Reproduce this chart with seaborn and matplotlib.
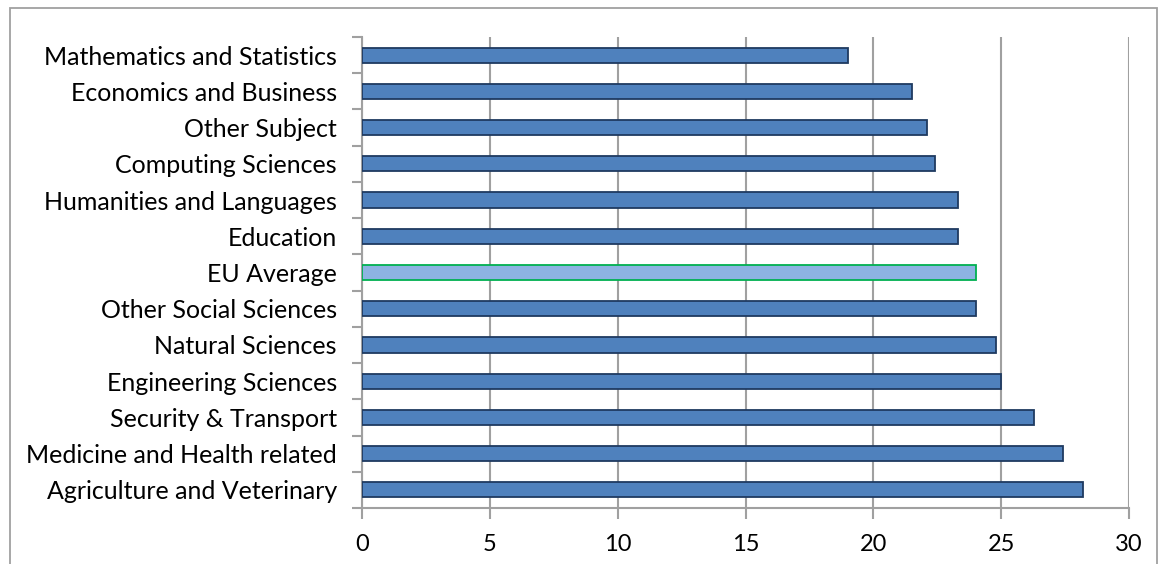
import numpy as np
import pandas as pd
import seaborn as sns
import matplotlib.pyplot as plt
from matplotlib.patches import Rectangle
from matplotlib.ticker import FixedLocator

subjects = ['Mathematics and Statistics', 'Economics and Business', 'Other Subject',
            'Computing Sciences', 'Humanities and Languages', 'Education', 'EU Average',
            'Other Social Sciences', 'Natural Sciences', 'Engineering Sciences',
            'Security & Transport', 'Medicine and Health related', 'Agriculture and Veterinary']
values = [19.0, 21.5, 22.1, 22.4, 23.3, 23.3, 24.0, 24.0, 24.8, 25.0, 26.3, 27.4, 28.2]
xticks = [0, 5, 10, 15, 20, 25, 30]

df = pd.DataFrame({'subject': subjects, 'value': values})

sns.set_theme(style='white')
plt.rcParams['font.family'] = ['Lato', 'DejaVu Sans']

fig = plt.figure(figsize=(11.59, 5.64), dpi=100)
ax = fig.add_axes([362 / 1159, 1 - 508 / 564, (1129 - 362) / 1159, (508 - 37) / 564])

colors = ['#8DB3E2' if s == 'EU Average' else '#4F81BD' for s in subjects]
sns.barplot(data=df, x='value', y='subject', hue='subject', palette=colors,
            saturation=1, legend=False, orient='h', width=0.42, ax=ax, zorder=3)

for p, s in zip(ax.patches, subjects):
    if s == 'EU Average':
        p.set_edgecolor('#00B050')
    else:
        p.set_edgecolor('#1F3A60')
    p.set_linewidth(1.3)

ax.set_xlim(0, 30)
ax.set_ylim(len(subjects) - 0.5, -0.5)
ax.set_xticks(xticks)
ax.set_xticklabels([str(t) for t in xticks])
ax.set_xlabel('')
ax.set_ylabel('')

ax.grid(axis='x', color='#A0A0A0', linewidth=1.5, zorder=0)
ax.grid(axis='y', visible=False)

for side in ['top', 'right']:
    ax.spines[side].set_visible(False)
for side in ['left', 'bottom']:
    ax.spines[side].set_color('#A0A0A0')
    ax.spines[side].set_linewidth(1.5)

ax.tick_params(axis='x', which='major', length=8, width=1.5, color='#A0A0A0',
               labelsize=17, pad=11, labelcolor='black', direction='out', bottom=True)
ax.tick_params(axis='y', which='major', length=0, labelsize=18, pad=18, labelcolor='black')
ax.yaxis.set_minor_locator(FixedLocator(np.arange(-0.5, len(subjects), 1.0)))
ax.tick_params(axis='y', which='minor', length=7, width=1.5, color='#A0A0A0',
               direction='out', left=True)

fig.patches.append(Rectangle((10 / 1159, -0.1), (1157 - 10) / 1159, 1.1 - 8 / 564,
                             transform=fig.transFigure, fill=False,
                             edgecolor='#A0A0A0', linewidth=1.3))

fig.savefig('out.png', dpi=100)
